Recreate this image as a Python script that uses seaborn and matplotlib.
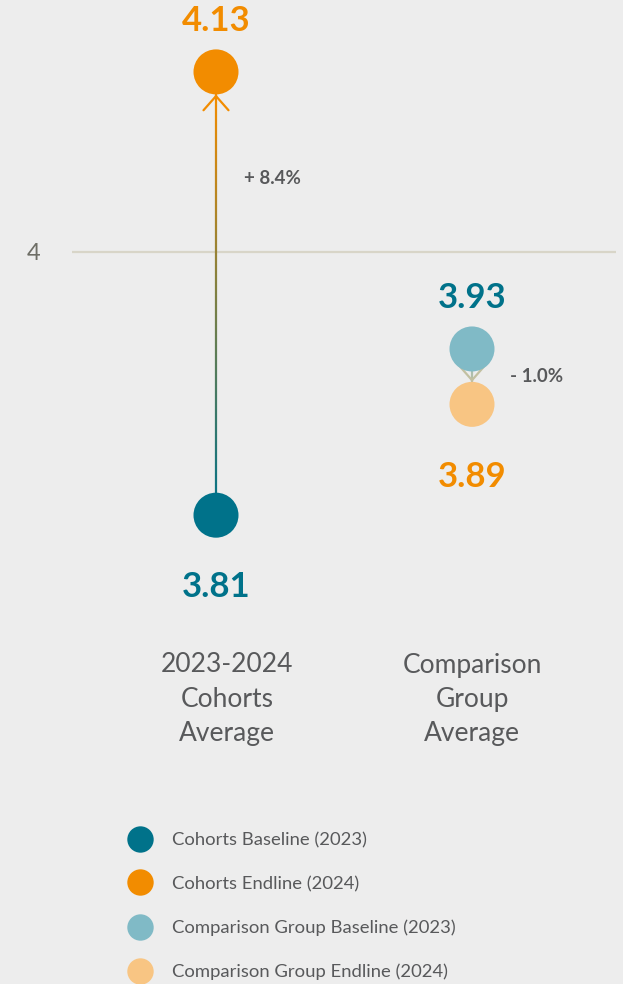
import numpy as np
import pandas as pd
import matplotlib.pyplot as plt
import seaborn as sns
from matplotlib.collections import LineCollection
from matplotlib.colors import to_rgb
from matplotlib.lines import Line2D
from matplotlib.transforms import ScaledTranslation

# Chart data
groups = ["2023-2024\nCohorts\nAverage", "Comparison\nGroup\nAverage"]
baseline = [3.81, 3.93]
endline = [4.13, 3.89]
change_labels = ["+ 8.4%", "- 1.0%"]
series = ["Cohorts Baseline (2023)", "Cohorts Endline (2024)",
          "Comparison Group Baseline (2023)", "Comparison Group Endline (2024)"]
colors = ["#00728a", "#f28c00", "#80bac6", "#f8c583"]

df = pd.DataFrame({
    "group": [groups[0], groups[0], groups[1], groups[1]],
    "value": [baseline[0], endline[0], baseline[1], endline[1]],
    "series": series,
})

sns.set_theme(style="white")
plt.rcParams['font.family'] = ['Lato', 'DejaVu Sans']

bg = '#ededed'
fig = plt.figure(figsize=(6.23, 9.84), dpi=100)
fig.patch.set_facecolor(bg)
ax = fig.add_axes([72 / 623, 1 - 640 / 984, 544 / 623, 640 / 984])
ax.set_facecolor(bg)

sns.scatterplot(data=df, x='group', y='value', hue='series', palette=colors,
                s=1050, edgecolor='none', linewidth=0, legend=False, zorder=3, ax=ax)

ax.set_xlim(-0.5625, 1.5625)
ax.set_ylim(3.7199, 4.1819)

# marker radius in data units (45px circles, ~1385px per unit)
r = 22.5 / 1385

# gradient arrows from baseline to endline
for i in range(len(groups)):
    b, e = baseline[i], endline[i]
    c0 = np.array(to_rgb(colors[2 * i]))
    c1 = np.array(to_rgb(colors[2 * i + 1]))
    direction = 1 if e > b else -1
    tip = e - direction * r
    ys = np.linspace(b, tip, 120)
    segs = [[(i, ys[k]), (i, ys[k + 1])] for k in range(len(ys) - 1)]
    t = np.linspace(0, 1, len(segs))
    if i == 0:
        cols = [c0 * (1 - tt) + c1 * tt for tt in t]
        head_col = c1
    else:
        cols = [c0 * (1 - tt * 0.5) + c1 * tt * 0.5 for tt in t]
        head_col = c0 * 0.45 + c1 * 0.55
    ax.add_collection(LineCollection(segs, colors=cols, linewidths=1.6, zorder=2))
    ax.annotate('', xy=(i, tip), xytext=(i, tip - direction * 0.002),
                arrowprops=dict(arrowstyle='->,head_length=0.85,head_width=0.75',
                                color=head_col, lw=1.6, shrinkA=0, shrinkB=0),
                zorder=2)

# value labels
label_colors = [colors[0], colors[1]]
for i in range(len(groups)):
    for val, col in [(baseline[i], label_colors[0]), (endline[i], label_colors[1])]:
        other = endline[i] if val == baseline[i] else baseline[i]
        dy = 37 if val > other else -52
        ax.annotate(f"{val:.2f}", xy=(i, val), xytext=(0, dy), textcoords='offset points',
                    ha='center', va='center', fontsize=25, fontweight='bold', color=col)

# percentage change labels
change_offsets = [(20, 83), (27, 0)]
for i, lab in enumerate(change_labels):
    mid = (baseline[i] + endline[i]) / 2
    ax.annotate(lab, xy=(i, mid), xytext=change_offsets[i], textcoords='offset points',
                ha='left', va='center', fontsize=13.5, fontweight='bold', color='#58595b')

# reference gridline at 4
ax.set_yticks([4])
ax.set_yticklabels(['4'], fontsize=17, color='#6e6e66')
ax.yaxis.grid(True, color='#d8d5c8', linewidth=1.6)
ax.xaxis.grid(False)
ax.tick_params(axis='y', length=0, pad=23)
ax.tick_params(axis='x', length=0, pad=9)
ax.set_xticks([0, 1])
ax.set_xticklabels(groups, fontsize=19, color='#58595b', linespacing=1.47)
ax.set_xlabel('')
ax.set_ylabel('')
for s in ax.spines.values():
    s.set_visible(False)
# the cohort label sits slightly right of its column
lab0 = ax.get_xticklabels()[0]
lab0.set_transform(lab0.get_transform() + ScaledTranslation(11 / 100, 0, fig.dpi_scale_trans))

handles = [Line2D([], [], marker='o', ls='', markersize=19, markerfacecolor=c,
                  markeredgecolor='none') for c in colors]
fig.legend(handles, series, loc='upper left', bbox_to_anchor=(127 / 623, 1 - 832 / 984),
           frameon=False, fontsize=13.3, labelcolor='#58595b', handlelength=1.4,
           handletextpad=1.05, labelspacing=1.5, borderpad=0, borderaxespad=0)

fig.savefig('out.png', dpi=100, facecolor=bg)
